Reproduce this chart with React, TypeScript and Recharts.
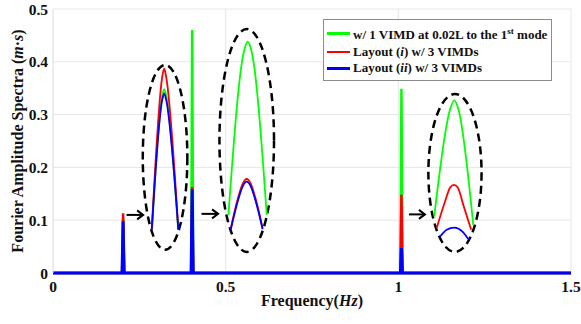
import { ComposedChart, Line, XAxis, YAxis, CartesianGrid, ReferenceArea, Legend } from "recharts";

const FONT = '"Liberation Serif", "Times New Roman", serif';

// main spectra: three narrow peaks
const freq = [0, 0.2, 0.203, 0.206, 0.4, 0.403, 0.406, 1.006, 1.009, 1.012, 1.5];
const greenAmp = [0, 0, 0.105, 0, 0, 0.46, 0, 0, 0.349, 0, 0];
const redAmp = [0, 0, 0.113, 0, 0, 0.163, 0, 0, 0.148, 0, 0];
const blueAmp = [0, 0, 0.098, 0, 0, 0.158, 0, 0, 0.047, 0, 0];

// zoomed-in views of the peaks (drawn in axis units)
const zoomAGreen: [number, number][] = [[0.287, 0.085], [0.316, 0.335], [0.322, 0.348], [0.328, 0.335], [0.362, 0.085]];
const zoomARed: [number, number][] = [[0.286, 0.082], [0.317, 0.374], [0.322, 0.387], [0.327, 0.374], [0.363, 0.082]];
const zoomABlue: [number, number][] = [[0.286, 0.082], [0.316, 0.327], [0.322, 0.340], [0.328, 0.327], [0.363, 0.082]];

const zoomBGreen: [number, number][] = [[0.508, 0.11], [0.553, 0.42], [0.564, 0.438], [0.575, 0.42], [0.619, 0.11]];
const zoomBRed: [number, number][] = [[0.515, 0.085], [0.535, 0.14], [0.55, 0.17], [0.561, 0.178], [0.572, 0.17], [0.587, 0.14], [0.607, 0.085]];
const zoomBBlue: [number, number][] = [[0.515, 0.083], [0.535, 0.136], [0.55, 0.165], [0.561, 0.173], [0.572, 0.165], [0.587, 0.136], [0.607, 0.083]];

const zoomCGreen: [number, number][] = [[1.104, 0.107], [1.15, 0.31], [1.162, 0.327], [1.174, 0.31], [1.217, 0.091]];
const zoomCRed: [number, number][] = [[1.111, 0.085], [1.135, 0.135], [1.15, 0.162], [1.161, 0.167], [1.172, 0.162], [1.19, 0.125], [1.211, 0.082]];
const zoomCBlue: [number, number][] = [[1.121, 0.069], [1.14, 0.082], [1.162, 0.086], [1.185, 0.079], [1.203, 0.064]];

// dashed ellipses: [x1, x2, y1, y2]
const ellipses = [
  [0.26, 0.389, 0.044, 0.394],
  [0.482, 0.64, 0.04, 0.462],
  [1.087, 1.241, 0.04, 0.339],
];
// arrows: [xFrom, xTo, y]
const arrows = [
  [0.213, 0.261, 0.11],
  [0.43, 0.478, 0.112],
  [1.031, 1.077, 0.111],
];

const xTicks = [0, 0.5, 1, 1.5];
const yTicks = [0, 0.1, 0.2, 0.3, 0.4, 0.5];

const GREEN = "#00ff00";
const RED = "#ff0000";
const BLUE = "#0000ff";

const chartData = freq.map((f, i) => ({ x: f, green: greenAmp[i], red: redAmp[i], blue: blueAmp[i] }));
const pts = (arr: [number, number][]) => arr.map(([x, y]) => ({ x, y }));

const zoomLines = [
  { d: zoomAGreen, c: GREEN }, { d: zoomARed, c: RED }, { d: zoomABlue, c: BLUE },
  { d: zoomBGreen, c: GREEN }, { d: zoomBRed, c: RED }, { d: zoomBBlue, c: BLUE },
  { d: zoomCGreen, c: GREEN }, { d: zoomCRed, c: RED }, { d: zoomCBlue, c: BLUE },
];

const EllipseShape = (p: any) => (
  <ellipse
    cx={p.x + p.width / 2}
    cy={p.y + p.height / 2}
    rx={p.width / 2}
    ry={p.height / 2}
    fill="none"
    stroke="#000"
    strokeWidth={2.5}
    strokeDasharray="8 5"
  />
);

const ArrowShape = (p: any) => {
  const y = p.y + p.height / 2;
  const x1 = p.x;
  const x2 = p.x + p.width;
  return (
    <g>
      <line x1={x1} y1={y} x2={x2} y2={y} stroke="#000" strokeWidth={2} />
      <polyline points={`${x2 - 6},${y - 4.5} ${x2},${y} ${x2 - 6},${y + 4.5}`} fill="none" stroke="#000" strokeWidth={2} />
    </g>
  );
};

const legendItems = [
  { c: GREEN, label: <>w/ 1 VIMD at 0.02L to the 1<sup style={{ fontSize: 9 }}>st</sup> mode</> },
  { c: RED, label: <>Layout (<i>i</i>) w/ 3 VIMDs</> },
  { c: BLUE, label: <>Layout (<i>ii</i>) w/ 3 VIMDs</> },
];

const renderLegend = () => (
  <div
    style={{
      border: "1px solid #8c8c8c",
      background: "#fff",
      padding: "3px 4px 3px 3px",
      fontFamily: FONT,
      fontWeight: "bold",
      fontSize: 13,
      lineHeight: "16.5px",
      whiteSpace: "nowrap",
      color: "#111",
    }}
  >
    {legendItems.map((it, i) => (
      <div key={i} style={{ display: "flex", alignItems: "center" }}>
        <span style={{ display: "inline-block", width: 23, height: 2.5, background: it.c, marginRight: 3 }} />
        <span>{it.label}</span>
      </div>
    ))}
  </div>
);

const YTitle = (props: any) => {
  const vb = props.viewBox;
  const cx = vb.x + 17;
  const cy = vb.y + vb.height / 2;
  return (
    <text
      x={cx}
      y={cy}
      transform={`rotate(-90, ${cx}, ${cy})`}
      textAnchor="middle"
      dominantBaseline="central"
      fontFamily={FONT}
      fontWeight="bold"
      fontSize={16}
      fill="#111"
    >
      Fourier Amplitude Spectra (<tspan fontStyle="italic">m</tspan>·<tspan fontStyle="italic">s</tspan>)
    </text>
  );
};

const XTitle = (props: any) => {
  const vb = props.viewBox;
  return (
    <text
      x={vb.x + vb.width / 2}
      y={vb.y + 33}
      textAnchor="middle"
      fontFamily={FONT}
      fontWeight="bold"
      fontSize={16}
      fill="#111"
    >
      Frequency(<tspan fontStyle="italic">Hz</tspan>)
    </text>
  );
};

const tickStyle = { fontFamily: FONT, fontWeight: "bold", fontSize: 15.5, fill: "#111" };

export default function App() {
  return (
    <div style={{ position: "absolute", left: 0, top: 0, width: 581, height: 324, background: "#fff" }}>
      <ComposedChart width={581} height={324} data={chartData} margin={{ top: 9, right: 10, bottom: 0, left: 0 }}>
        <CartesianGrid stroke="#e6e6e6" strokeWidth={1} />
        <XAxis
          dataKey="x"
          type="number"
          domain={[0, 1.5]}
          ticks={xTicks}
          tickFormatter={(v) => String(v)}
          tick={tickStyle}
          tickLine={false}
          axisLine={false}
          height={51}
          label={{ content: XTitle }}
        />
        <YAxis
          type="number"
          domain={[0, 0.5]}
          ticks={yTicks}
          tickFormatter={(v) => (v === 0 ? "0" : v.toFixed(1))}
          tick={tickStyle}
          tickLine={false}
          tickSize={3}
          tickMargin={2}
          axisLine={{ stroke: "#e6e6e6" }}
          width={53}
          label={{ content: YTitle }}
        />
        {ellipses.map(([x1, x2, y1, y2], i) => (
          <ReferenceArea key={`e${i}`} x1={x1} x2={x2} y1={y1} y2={y2} shape={EllipseShape} />
        ))}
        {arrows.map(([x1, x2, y], i) => (
          <ReferenceArea key={`a${i}`} x1={x1} x2={x2} y1={y - 0.005} y2={y + 0.005} shape={ArrowShape} />
        ))}
        <Line dataKey="green" name="green" stroke={GREEN} strokeWidth={2.5} dot={false} isAnimationActive={false} type="linear" />
        <Line dataKey="red" name="red" stroke={RED} strokeWidth={2.5} dot={false} isAnimationActive={false} type="linear" />
        <Line dataKey="blue" name="blue" stroke={BLUE} strokeWidth={3} dot={false} isAnimationActive={false} type="linear" />
        {zoomLines.map((z, i) => (
          <Line
            key={`z${i}`}
            data={pts(z.d)}
            dataKey="y"
            stroke={z.c}
            strokeWidth={1.8}
            dot={false}
            isAnimationActive={false}
            type="monotone"
            legendType="none"
          />
        ))}
        <Legend
          layout="vertical"
          align="center"
          verticalAlign="middle"
          content={renderLegend}
          wrapperStyle={{ top: 19, left: 323, width: "auto" }}
        />
      </ComposedChart>
    </div>
  );
}
